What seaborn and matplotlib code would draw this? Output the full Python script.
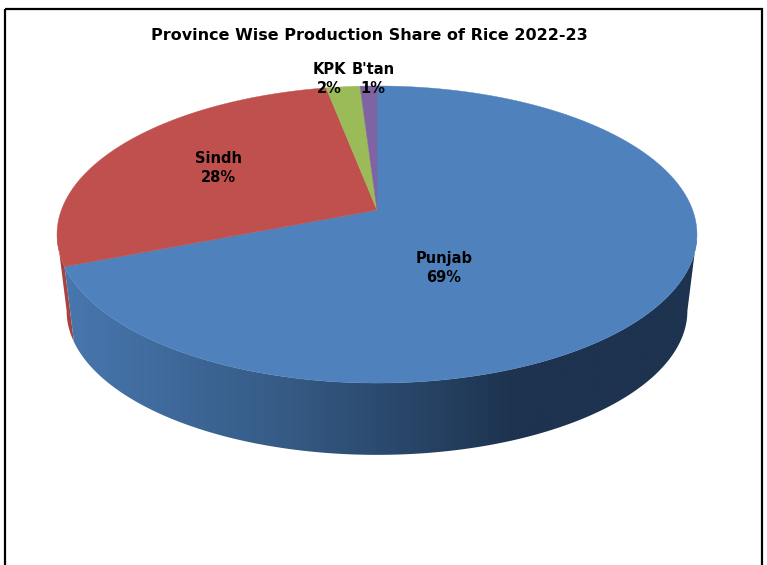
import numpy as np
import seaborn as sns
import matplotlib.pyplot as plt
from matplotlib.colors import to_rgb
from matplotlib.patches import Polygon, Rectangle

# province shares of rice production
provinces = ["Punjab", "Sindh", "KPK", "B'tan"]
shares = [69, 28, 2, 1]
title = "Province Wise Production Share of Rice 2022-23"

colors = sns.color_palette(["#4F81BD", "#C0504D", "#9BBB59", "#8064A2"])

sns.set_style("white")
plt.rcParams['font.family'] = ['DejaVu Sans']

fig = plt.figure(figsize=(7.67, 5.65), dpi=100)
ax = fig.add_axes([0, 0, 1, 1])
ax.axis('off')

# tilted disc: a circle under a perspective projection
apex_x, apex_y = 377, 210
k, a, b = 0.165, 144.5, 315.6
drop, shrink = 77, 0.97


def project(theta, floor=False):
    x, y = np.cos(theta), np.sin(theta)
    px = b * x / (1 + k * y)
    py = -a * y / (1 + k * y)
    if floor:
        return apex_x + shrink * px, apex_y + drop + shrink * py
    return apex_x + px, apex_y + py


def wall(t0, t1):
    th = np.linspace(t0, t1, 300)
    xt, yt = project(th)
    xb, yb = project(th[::-1], floor=True)
    return np.c_[np.r_[xt, xb], np.r_[yt, yb]]


# wedge limits, clockwise from 12 o'clock
edges = np.pi / 2 - 2 * np.pi * np.cumsum([0] + shares) / sum(shares)
punjab_end = edges[1] + 2 * np.pi

# angles where the disc outline is widest, the wall stops there
tangent = np.arcsin(k)
left_side = np.pi + tangent
right_side = 2 * np.pi - tangent

# side wall, Sindh sliver first, then Punjab with its shading
ax.add_patch(Polygon(wall(left_side, punjab_end), closed=True, color="#A8423F", lw=0, zorder=1))

shade = np.array(sns.blend_palette(["#4877AF", "#355A84", "#1D334F"], 452))
shade = np.vstack([shade, np.tile(to_rgb("#1D334F"), (180, 1))])
img = ax.imshow(shade[np.newaxis, :, :], extent=(60, 700, 470, 240), aspect='auto',
                interpolation='bilinear', zorder=2)
wall_patch = Polygon(wall(punjab_end, right_side), closed=True, transform=ax.transData,
                     facecolor='none', edgecolor='none')
ax.add_patch(wall_patch)
img.set_clip_path(wall_patch)

# top face
for i in range(len(shares)):
    th = np.linspace(edges[i], edges[i + 1], 300)
    xs, ys = project(th)
    ax.fill(np.r_[apex_x, xs], np.r_[apex_y, ys], color=colors[i], lw=0.3, zorder=3)

label_pos = [(444, 268), (218, 168), (329, 79), (373, 79)]
for name, val, (lx, ly) in zip(provinces, shares, label_pos):
    ax.text(lx, ly, f"{name}\n{val}%", ha='center', va='center', fontsize=10.5,
            fontweight='bold', color='black', linespacing=1.32, zorder=5)

ax.text(369, 36, title, ha='center', va='center', fontsize=11.5, fontweight='bold',
        color='black', zorder=5)

# outer frame, runs off the bottom of the picture
ax.add_patch(Rectangle((4.5, 8.5), 757, 580, fill=False, edgecolor='black',
                       linewidth=1.6, zorder=6))

ax.set_xlim(0, 767)
ax.set_ylim(565, 0)

fig.savefig("out.png", dpi=100)
